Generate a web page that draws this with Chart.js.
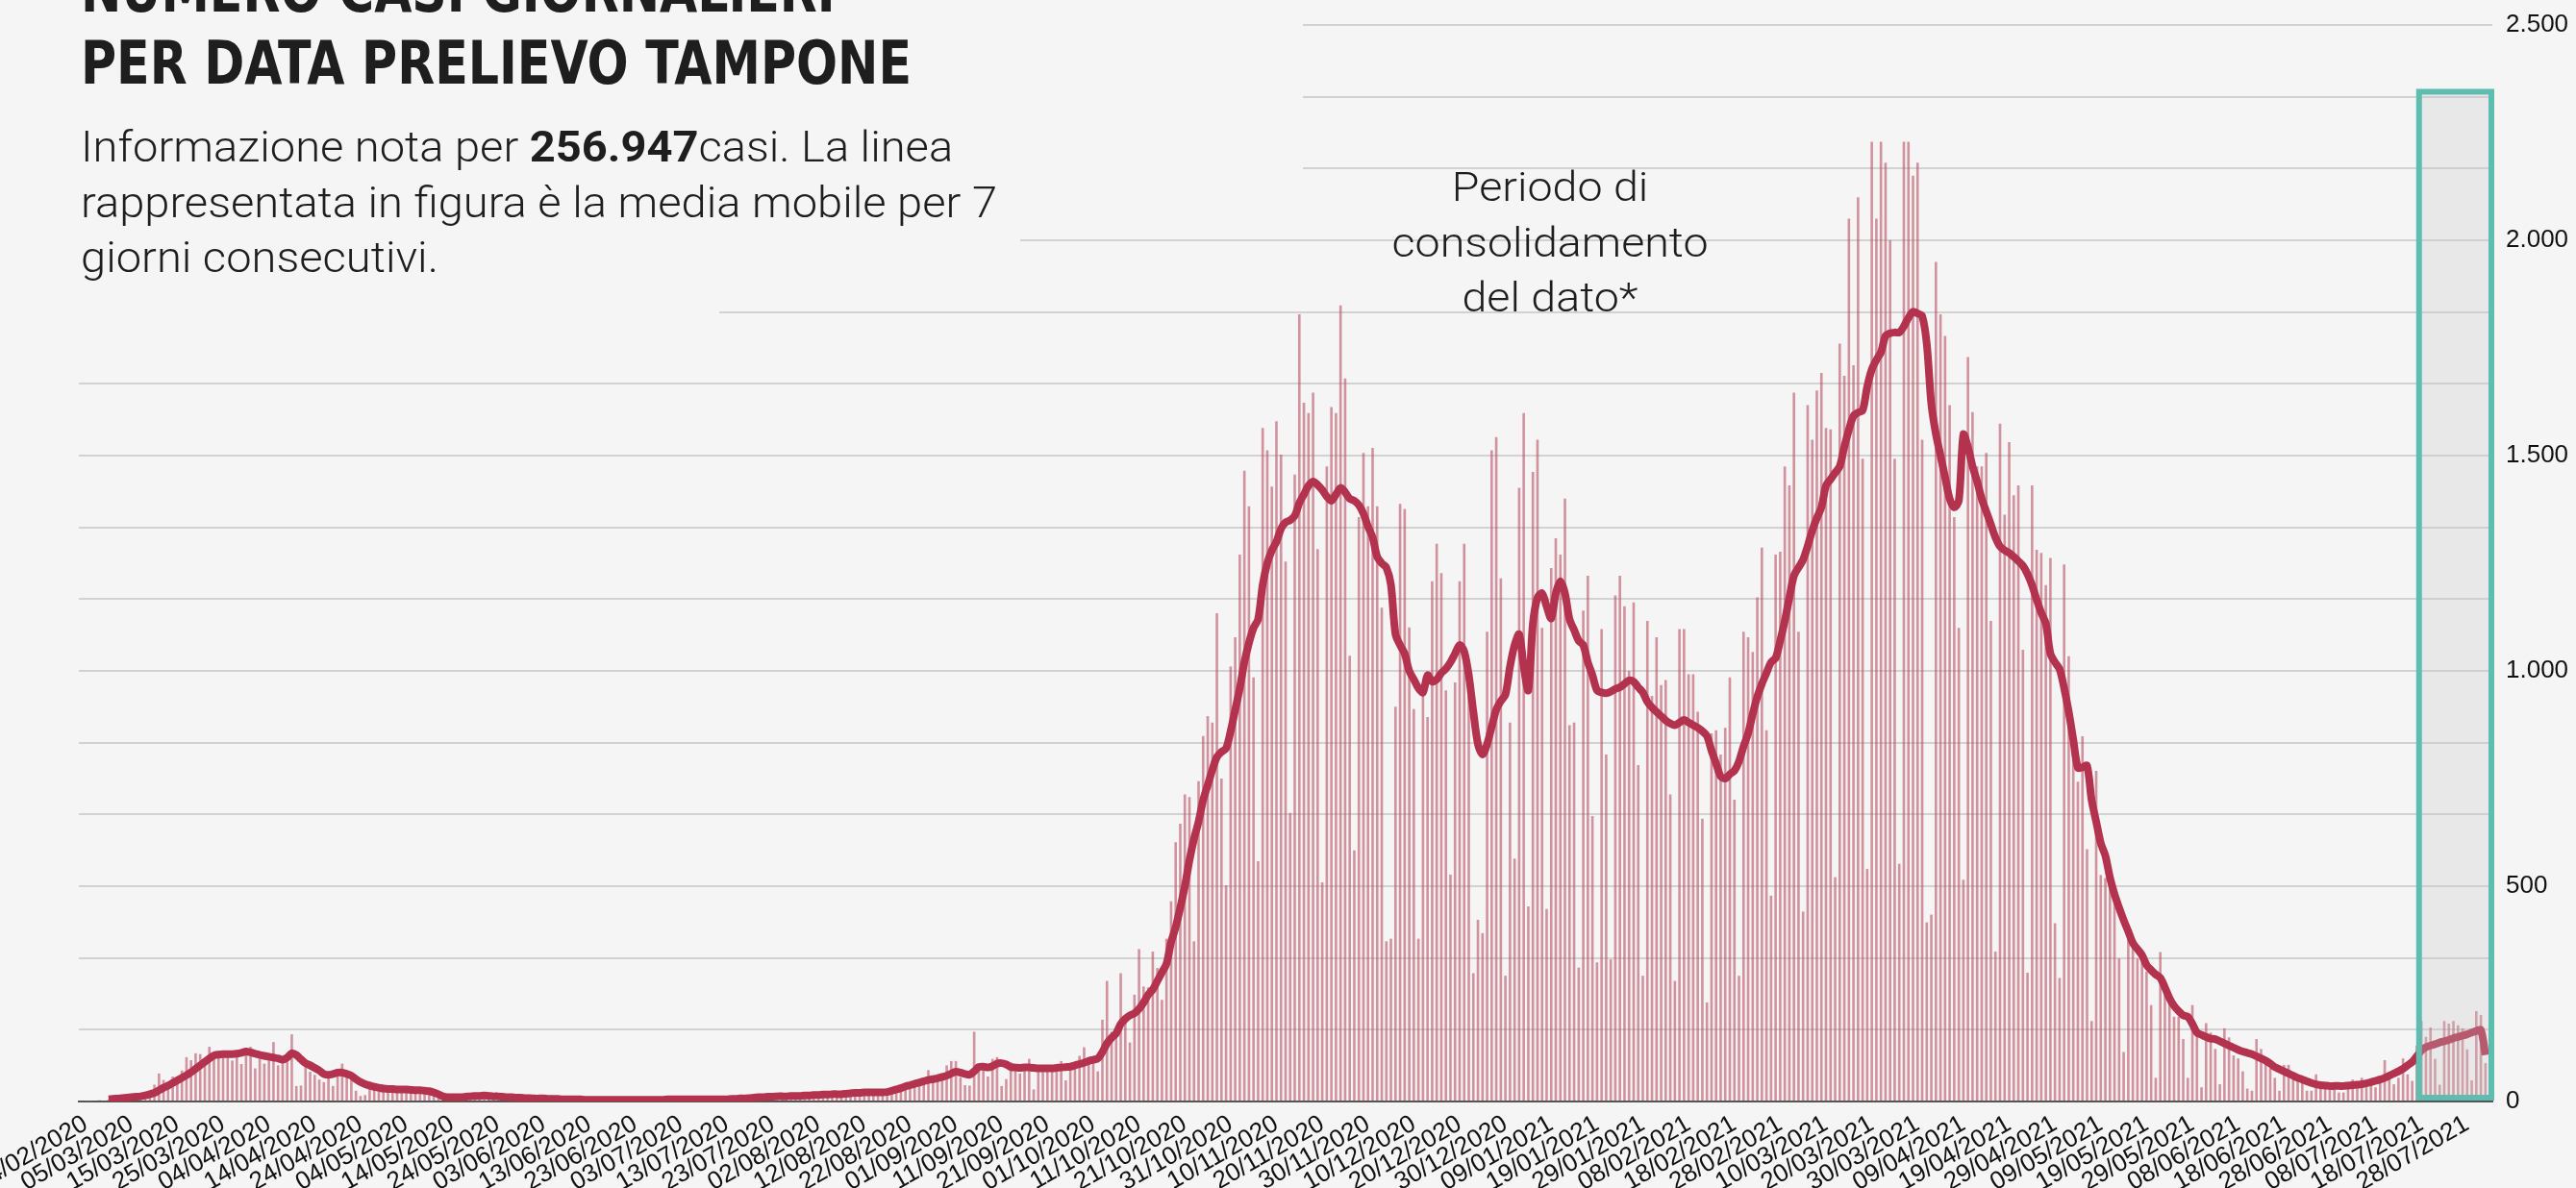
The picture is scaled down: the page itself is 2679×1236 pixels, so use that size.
<!DOCTYPE html>
<html>
<head>
<meta charset="utf-8">
<script src="https://cdn.jsdelivr.net/npm/chart.js@4.4.1/dist/chart.umd.min.js"></script>
<style>
  html, body { margin: 0; padding: 0; background: #f5f5f5; }
  #wrap { position: relative; width: 2679px; height: 1236px; overflow: hidden; }
</style>
</head>
<body>
<div id="wrap"><canvas id="chart" width="2679" height="1236"></canvas></div>
<script>
// one row = one week, first day 23/02/2020
const casesByWeek = [
  [0,1,1,2,3,2,5], [6,7,9,11,12,6,15], [18,24,39,65,50,40,58], [55,72,103,96,112,110,90],
  [127,110,112,110,113,95,117], [87,125,127,77,99,88,99], [138,84,95,110,156,36,37], [80,69,62,51,45,58,36],
  [60,88,58,51,25,13,15], [47,28,30,25,33,20,28], [30,26,22,28,18,24,22], [14,12,9,10,8,11,10],
  [12,14,11,15,10,13,12], [10,11,9,12,8,10,8], [8,7,6,8,5,7,6], [5,6,4,6,4,5,5],
  [4,5,4,5,3,4,5], [4,5,3,4,3,5,4], [4,5,4,5,3,5,6], [5,6,4,5,4,6,5],
  [6,7,5,8,6,7,8], [10,9,11,12,9,12,13], [12,14,13,12,10,15,14], [18,21,16,17,14,19,18],
  [20,22,19,21,16,24,22], [24,20,26,30,28,36,40], [42,46,50,73,55,48,60], [84,94,94,56,38,37,162],
  [84,88,58,99,103,36,52], [91,84,65,80,99,28,70], [70,75,70,80,94,49,75], [80,106,126,88,100,70,190],
  [280,162,150,298,200,137,248], [354,267,265,348,310,236,378], [465,602,645,713,707,372,744], [849,895,880,1134,750,502,1010],
  [1078,1270,1465,1382,985,558,1564], [1512,1428,1580,1502,1254,670,1456], [1828,1623,1599,1646,1283,509,1475], [1613,1599,1849,1679,1035,583,1357],
  [1506,1382,1518,1382,1147,372,378], [917,1388,1376,1101,911,378,948], [893,1208,1295,1227,955,527,973], [1208,1295,942,298,422,391,1091],
  [1512,1543,1215,292,880,564,1425], [1599,453,1462,1537,1100,447,1239], [1308,1270,1400,874,880,311,1140], [1221,663,323,1097,806,330,1175],
  [1221,1150,1000,1159,781,292,1116], [942,1078,967,979,713,280,1097], [1097,992,992,905,657,230,855], [862,806,868,985,701,292,1091],
  [1078,1044,1171,1286,862,478,1270], [1277,1475,1431,1646,1091,441,1617], [1537,1651,1692,1564,1561,521,1760], [1685,2050,1710,2100,1493,540,2229],
  [2050,2229,2180,2000,1493,552,2229], [2229,2150,2180,1537,416,434,1950], [1828,1778,1617,1357,1100,515,1729], [1601,1475,1475,1506,1116,348,1574],
  [1363,1531,1408,1431,1049,299,1431], [1281,1274,1199,1262,414,287,1247], [1034,840,743,848,586,187,768], [526,519,496,466,332,115,391],
  [362,332,324,302,224,55,347], [264,242,197,197,145,55,224], [152,33,182,160,122,40,170], [149,107,100,70,30,25,145],
  [122,92,77,55,25,85,85], [55,48,48,25,25,63,40], [40,33,40,21,21,40,51], [40,55,33,40,33,55,96],
  [63,40,55,100,63,48,130], [187,150,172,99,39,187,181], [187,177,170,121,49,210,201], [89,null]
];

// media mobile 7 giorni, same weeks
const averageByWeek = [
  [null,null,null,null,null,null,5], [6,7,8,9,10,11,12], [14,17,20,26,32,37,43], [49,55,61,68,76,84,92],
  [100,107,109,110,110,110,111], [113,116,114,111,108,106,104], [102,100,97,102,112,108,98], [89,84,78,72,64,62,64],
  [67,67,64,60,52,45,40], [37,34,32,30,29,29,28], [28,28,27,26,26,25,24], [21,17,12,10,10,10,10],
  [11,12,13,13,14,13,12], [12,11,10,10,9,9,8], [8,7,7,7,6,6,6], [5,5,5,5,5,4,4],
  [4,4,4,4,4,4,4], [4,4,4,4,4,4,4], [4,4,5,5,5,5,5], [5,5,5,5,5,5,5],
  [5,5,6,6,7,7,8], [9,10,10,11,11,12,12], [12,13,13,13,14,14,15], [15,16,16,17,17,17,18],
  [19,20,20,21,21,21,21], [21,22,25,28,31,35,38], [41,44,47,50,52,54,57], [60,65,69,67,64,62,70],
  [80,81,79,82,88,89,86], [80,79,78,79,79,78,77], [77,77,77,78,79,80,81], [84,87,90,94,97,100,115],
  [135,148,158,180,192,200,205], [215,230,248,260,280,300,320], [370,405,450,500,560,610,650], [700,735,770,800,812,820,860],
  [910,960,1020,1065,1100,1120,1200], [1250,1280,1300,1330,1345,1350,1360], [1390,1410,1430,1440,1432,1420,1405], [1395,1410,1425,1415,1400,1395,1385],
  [1365,1335,1310,1265,1250,1240,1200], [1085,1060,1040,1000,980,960,950], [990,975,980,995,1005,1020,1040], [1060,1045,990,905,830,806,830],
  [870,910,930,945,1010,1060,1085], [1010,955,1110,1170,1180,1150,1122], [1180,1208,1180,1120,1095,1070,1060], [1020,990,955,950,948,952,958],
  [962,970,978,975,962,950,928], [915,905,895,885,878,874,880], [886,880,874,868,860,849,815], [785,755,750,760,768,790,825],
  [855,900,940,970,995,1020,1030], [1070,1116,1170,1221,1240,1258,1290], [1326,1355,1380,1430,1445,1460,1475], [1520,1560,1592,1600,1605,1660,1700],
  [1722,1740,1778,1784,1786,1786,1800], [1820,1834,1830,1824,1760,1620,1550], [1500,1450,1400,1380,1395,1549,1520], [1475,1440,1400,1370,1340,1310,1289],
  [1280,1274,1265,1255,1244,1225,1199], [1165,1135,1110,1040,1020,1004,960], [905,840,775,776,780,700,650], [600,571,520,481,450,421,395],
  [368,354,340,317,305,295,287], [265,240,222,210,200,197,180], [160,155,150,146,145,140,135], [130,125,120,116,113,110,105],
  [100,95,88,80,75,70,65], [60,55,51,47,43,40,38], [37,36,36,36,36,37,38], [39,40,42,45,48,51,55],
  [60,65,70,76,84,92,105], [118,126,130,133,137,140,143], [147,150,153,156,160,164,166], [108,null]
];

// one label every 10 days, the first on the second day of the data
const tickLabels = [
  '24/02/2020','05/03/2020','15/03/2020','25/03/2020','04/04/2020','14/04/2020','24/04/2020',
  '04/05/2020','14/05/2020','24/05/2020','03/06/2020','13/06/2020','23/06/2020','03/07/2020',
  '13/07/2020','23/07/2020','02/08/2020','12/08/2020','22/08/2020','01/09/2020','11/09/2020',
  '21/09/2020','01/10/2020','11/10/2020','21/10/2020','31/10/2020','10/11/2020','20/11/2020',
  '30/11/2020','10/12/2020','20/12/2020','30/12/2020','09/01/2021','19/01/2021','29/01/2021',
  '08/02/2021','18/02/2021','28/02/2021','10/03/2021','20/03/2021','30/03/2021','09/04/2021',
  '19/04/2021','29/04/2021','09/05/2021','19/05/2021','29/05/2021','08/06/2021','18/06/2021',
  '28/06/2021','08/07/2021','18/07/2021','28/07/2021'
];
const yLabels = [0, 500, 1000, 1500, 2000, 2500];

const consolidationStart = 511; // index of 18/07/2021
const consolidationTop = 2345;

const dailyCases = casesByWeek.flat();
const movingAverage = averageByWeek.flat();
const days = dailyCases.map((v, i) => ((i - 1) % 10 === 0 ? tickLabels[(i - 1) / 10] : ''));

let gridValues = [];
for (let k = 0; k < yLabels.length - 1; k++) {
  const a = yLabels[k], b = yLabels[k + 1];
  gridValues.push(a, a + (b - a) / 3, a + 2 * (b - a) / 3);
}
gridValues.push(yLabels[yLabels.length - 1]);

const BG = '#f5f5f5';
const INK = '#1e1e1e';

function fitText(ctx, text, x, y, sx) {
  ctx.save();
  ctx.translate(x, y);
  ctx.scale(sx, 1);
  ctx.fillText(text, 0, 0);
  ctx.restore();
  return ctx.measureText(text).width * sx;
}

const decorations = {
  id: 'decorations',
  beforeDatasetsDraw(chart) {
    // the title block hides the top grid lines
    const ctx = chart.ctx;
    ctx.save();
    ctx.fillStyle = BG;
    ctx.fillRect(0, 0, 1355, 212);
    ctx.fillRect(0, 212, 1061, 75);
    ctx.fillRect(0, 287, 748, 75);
    ctx.restore();
  },
  afterDatasetsDraw(chart) {
    const { ctx, chartArea } = chart;
    const x = chart.scales.x, y = chart.scales.y;
    const half = (x.getPixelForValue(1) - x.getPixelForValue(0)) / 2;
    const left = x.getPixelForValue(consolidationStart) - half;
    const right = chartArea.right - 1;
    const top = y.getPixelForValue(consolidationTop);
    const bottom = y.getPixelForValue(0) - 4;
    ctx.save();
    ctx.fillStyle = 'rgba(200,200,200,0.27)';
    ctx.fillRect(left, top, right - left, bottom - top);
    ctx.strokeStyle = '#5ebdaf';
    ctx.lineWidth = 6;
    ctx.strokeRect(left, top, right - left, bottom - top);
    ctx.restore();
  },
  afterDraw(chart) {
    const ctx = chart.ctx;
    ctx.save();
    ctx.fillStyle = INK;
    ctx.textBaseline = 'alphabetic';
    ctx.textAlign = 'left';

    // title
    ctx.font = "bold 63px 'Liberation Sans Narrow', 'DejaVu Sans Condensed', 'Liberation Sans', sans-serif";
    const tScale = 864 / ctx.measureText('PER DATA PRELIEVO TAMPONE').width;
    fitText(ctx, 'NUMERO CASI GIORNALIERI', 84, 12, tScale);
    fitText(ctx, 'PER DATA PRELIEVO TAMPONE', 84, 87, tScale);

    // subtitle
    const light = "300 44px Roboto, 'Liberation Sans', sans-serif";
    const bold = "bold 44px Roboto, 'Liberation Sans', sans-serif";
    ctx.font = light;
    const sScale = 953 / ctx.measureText('rappresentata in figura è la media mobile per 7').width;
    let cx = 84;
    cx += fitText(ctx, 'Informazione nota per ', cx, 168, sScale);
    ctx.font = bold;
    cx += fitText(ctx, '256.947', cx, 168, sScale);
    ctx.font = light;
    fitText(ctx, 'casi. La linea', cx, 168, sScale);
    fitText(ctx, 'rappresentata in figura è la media mobile per 7', 84, 226, sScale);
    fitText(ctx, 'giorni consecutivi.', 84, 283, sScale);

    // note over the consolidation box
    ctx.font = "300 42px Roboto, 'Liberation Sans', sans-serif";
    const nScale = 329 / ctx.measureText('consolidamento').width;
    ['Periodo di', 'consolidamento', 'del dato*'].forEach((line, k) => {
      const w = ctx.measureText(line).width * nScale;
      fitText(ctx, line, 1612 - w / 2, 209 + k * 57.5, nScale);
    });
    ctx.restore();
  }
};

new Chart(document.getElementById('chart'), {
  type: 'bar',
  data: {
    labels: days,
    datasets: [
      {
        type: 'line',
        data: movingAverage,
        borderColor: '#b3324e',
        borderWidth: 8,
        pointRadius: 0,
        tension: 0.3,
        order: 0
      },
      {
        type: 'bar',
        data: dailyCases,
        backgroundColor: 'rgba(185,80,100,0.6)',
        barPercentage: 0.55,
        categoryPercentage: 1,
        order: 1
      }
    ]
  },
  options: {
    responsive: false,
    animation: false,
    devicePixelRatio: 1,
    layout: { padding: { left: 82, top: 26, right: 0, bottom: 0 } },
    plugins: { legend: { display: false }, tooltip: { enabled: false } },
    scales: {
      x: {
        offset: true,
        grid: { display: false, drawTicks: false },
        border: { display: true, color: '#555', width: 2 },
        ticks: {
          autoSkip: false,
          minRotation: 30,
          maxRotation: 30,
          padding: 8,
          color: '#111',
          font: { family: "'Liberation Sans', Arial, sans-serif", size: 26 }
        },
        afterFit(s) { s.height = 90; s.paddingLeft = 0; s.paddingRight = 0; }
      },
      y: {
        position: 'right',
        min: 0,
        max: 2500,
        grid: { color: '#d2d2d2', lineWidth: 2, drawTicks: false },
        border: { display: false },
        afterBuildTicks(s) { s.ticks = gridValues.map(v => ({ value: v })); },
        ticks: {
          padding: 14,
          color: '#111',
          font: { family: "'Liberation Sans', Arial, sans-serif", size: 26 },
          callback(v) {
            const r = Math.round(v);
            return yLabels.includes(r) ? r.toLocaleString('de-DE') : '';
          }
        },
        afterFit(s) { s.width = 87; s.paddingTop = 0; s.paddingBottom = 0; }
      }
    }
  },
  plugins: [decorations]
});
</script>
</body>
</html>
